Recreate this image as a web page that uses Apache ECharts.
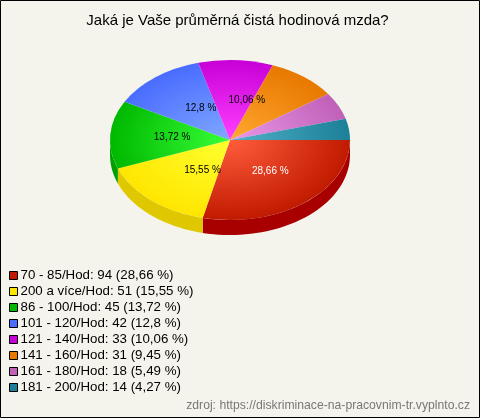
<!DOCTYPE html>
<html><head><meta charset="utf-8">
<style>html,body{margin:0;padding:0;background:#f5f4ec}#c{width:480px;height:418px}</style>
<script src="https://cdn.jsdelivr.net/npm/echarts@6/dist/echarts.min.js"></script>
</head><body><div id="c"></div>
<script>
const categories = ['70 - 85/Hod','200 a více/Hod','86 - 100/Hod','101 - 120/Hod','121 - 140/Hod','141 - 160/Hod','161 - 180/Hod','181 - 200/Hod'];
const values = [94,51,45,42,33,31,18,14];
const percentLabels = ['28,66','15,55','13,72','12,8','10,06','9,45','5,49','4,27'];
const baseColors = ['#c01a00','#ffe600','#00b800','#4a6cff','#c800d8','#e87800','#c060b8','#1c8098'];
const lightColors = ['#ff5c3c','#ffff30','#38ff38','#80a8ff','#ff40ff','#ffa830','#e898e8','#50b0c8'];
const sideColors = ['#a80000','#e0c800','#00a000','#3050c0','#9000a0','#b05000','#905090','#106070'];
const labelColors = ['#fff','#000','#000','#000','#000'];
const labelNudgeX = [3,12,2,8,14];

const cx = 230, cy = 140, rx = 120, ry = 80, depth = 15;
const total = values.reduce((a,b)=>a+b,0);
let acc = 0;
const slices = values.map(v => { const s = acc/total*Math.PI*2; acc += v; return [s, acc/total*Math.PI*2]; });

function sidePoints(a0, a1){
  const from = Math.max(a0,0), to = Math.min(a1,Math.PI);
  if (to <= from) return null;
  const top = [], bottom = [];
  for (let i=0;i<=40;i++){
    const a = from+(to-from)*i/40, x = cx+rx*Math.cos(a), y = cy+ry*Math.sin(a);
    top.push([x,y]); bottom.unshift([x,y+depth]);
  }
  return top.concat(bottom);
}

const series = categories.map((cat,i)=>({
  type:'custom', coordinateSystem:'none', silent:true, animation:false,
  name: cat+': '+values[i]+' ('+percentLabels[i]+' %)',
  itemStyle:{color:baseColors[i]},
  z: 2,
  data:[values[i]],
  renderItem(){
    const [a0,a1] = slices[i], children = [];
    const pts = sidePoints(a0,a1);
    if (pts) children.push({type:'polygon',shape:{points:pts},style:{fill:sideColors[i]},z2:1});
    children.push({type:'group',x:cx,y:cy,scaleY:ry/rx,z2:2,children:[{
      type:'sector',shape:{cx:0,cy:0,r0:0,r:rx,startAngle:a0,endAngle:a1,clockwise:true},
      style:{fill:new echarts.graphic.RadialGradient(0,0,rx,[{offset:0,color:lightColors[i]},{offset:1,color:baseColors[i]}],true)}
    }]});
    return {type:'group',children};
  }
}));

const labelSeries = {
  type:'custom', coordinateSystem:'none', silent:true, animation:false, z:5, name:'labels',
  data:[0],
  renderItem(){
    const children = [];
    labelNudgeX.forEach((n,i)=>{
      const m = (slices[i][0]+slices[i][1])/2;
      children.push({type:'text',x:cx+rx*.5*Math.cos(m)+n,y:cy+ry*.5*Math.sin(m),z2:10,
        style:{text:percentLabels[i]+' %',fill:labelColors[i],font:'10px "Liberation Sans"',align:'center',verticalAlign:'middle'}});
    });
    return {type:'group',children};
  }
};

const chart = echarts.init(document.getElementById('c'),null,{renderer:'canvas'});
chart.setOption({
  backgroundColor:'#f5f4ec', animation:false,
  title:{text:'Jaká je Vaše průměrná čistá hodinová mzda?',left:232.5,top:8,textAlign:'center',
    textStyle:{fontFamily:'Liberation Sans',fontSize:15,fontWeight:'normal',color:'#000'}},
  legend:{orient:'vertical',left:9,top:269,itemWidth:8,itemHeight:8,itemGap:3,padding:0,icon:'rect',selectedMode:false,
    data:series.map(s=>s.name),
    itemStyle:{borderColor:'#000',borderWidth:1},
    textStyle:{fontFamily:'Liberation Sans',fontSize:13.3,color:'#000',padding:[0,0,0,-2]}},
  graphic:[
    {type:'rect',shape:{x:.5,y:.5,width:479,height:417},style:{fill:'none',stroke:'#000',lineWidth:1},z:10},
    {type:'text',right:10,top:400,style:{text:'zdroj: https://diskriminace-na-pracovnim-tr.vyplnto.cz',fill:'#777',font:'12.2px "Liberation Sans"'}}
  ],
  series: series.concat([labelSeries])
});
</script></body></html>
